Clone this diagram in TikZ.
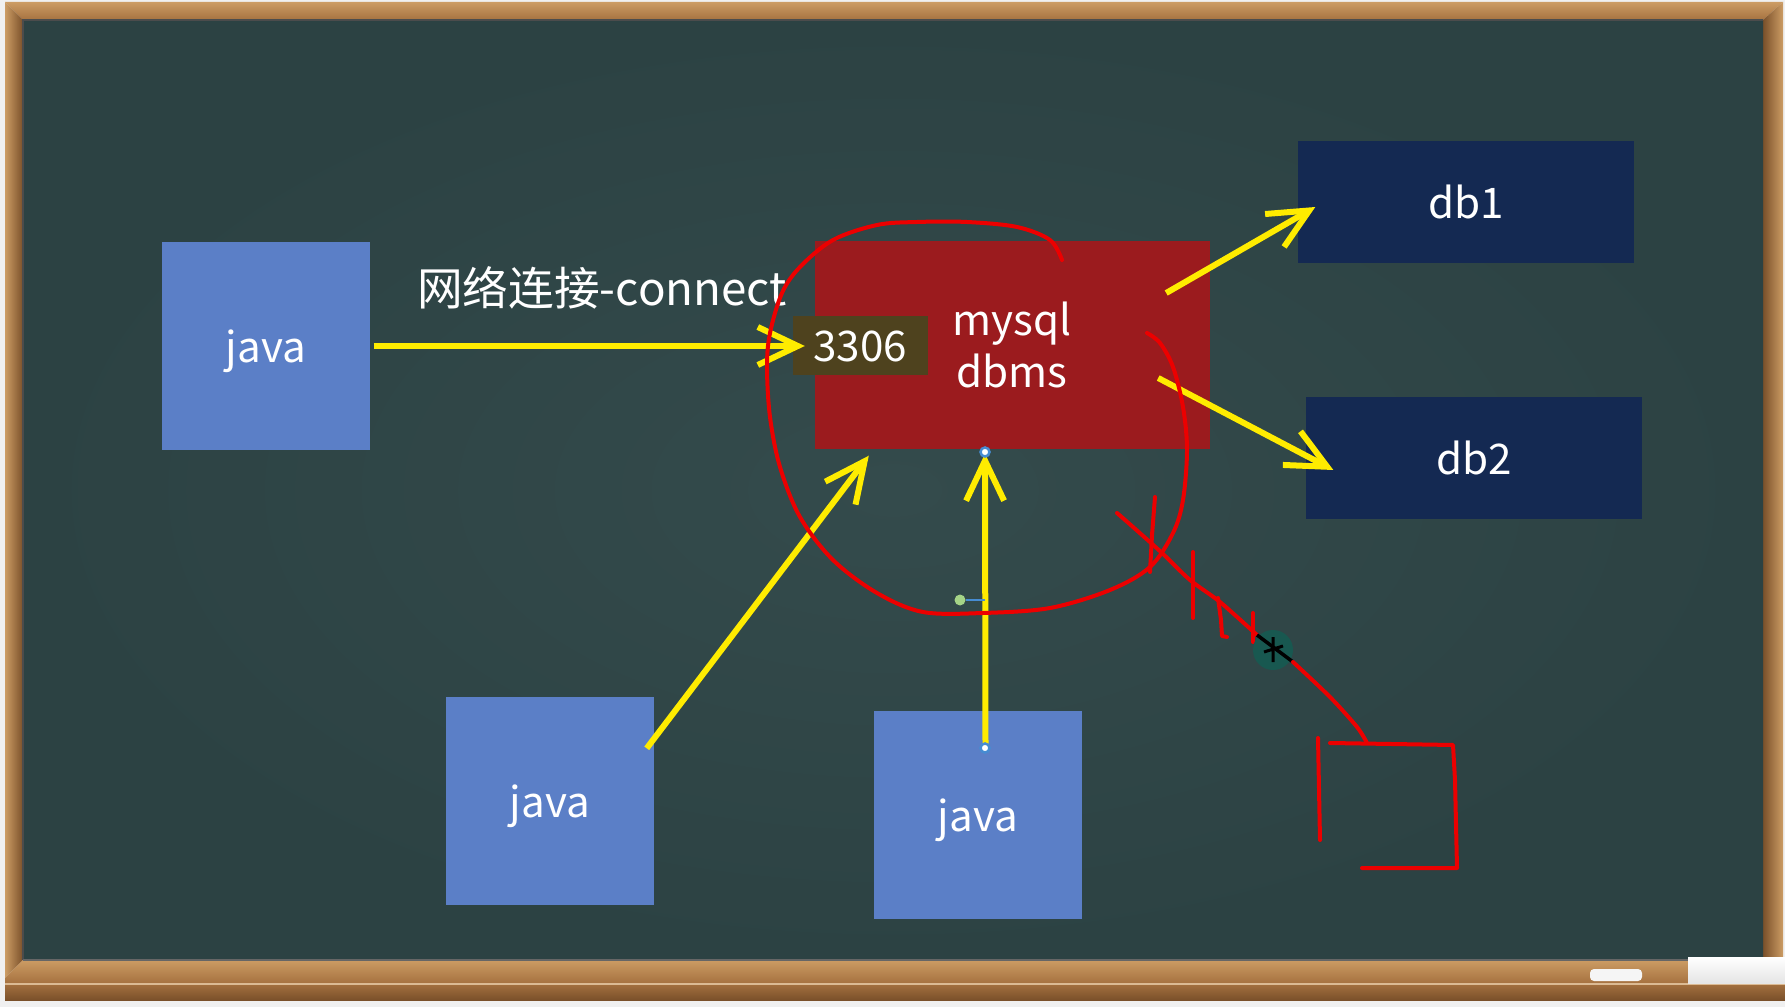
\documentclass[tikz,border=0pt]{standalone}
\usepackage{fontspec}
\setmainfont{Noto Sans CJK SC}
\usetikzlibrary{calc, positioning}
\usetikzlibrary{arrows.meta}

\definecolor{boardgreen}{RGB}{44,66,67}
\definecolor{boardlight}{RGB}{52,75,76}
\definecolor{woodmid}{RGB}{166,114,64}
\definecolor{woodlight}{RGB}{204,156,100}
\definecolor{wooddark}{RGB}{122,80,42}
\definecolor{javablue}{RGB}{91,127,199}
\definecolor{dbnavy}{RGB}{20,41,82}
\definecolor{dbmsred}{RGB}{155,27,30}
\definecolor{portolive}{RGB}{78,66,30}
\definecolor{linkyellow}{RGB}{255,236,0}
\definecolor{penred}{RGB}{236,0,0}
\definecolor{handleblue}{RGB}{70,140,210}
\definecolor{handlegreen}{RGB}{165,212,135}
\definecolor{cursorteal}{RGB}{24,88,80}

\begin{document}
\begin{tikzpicture}[x=0.1mm,y=-0.1mm,
  box/.style={inner sep=0pt, text=white, font=\fontsize{12}{15}\selectfont},
  javabox/.style={box, fill=javablue, text depth=0pt, minimum width=20.8mm, minimum height=20.8mm},
  dbbox/.style={box, fill=dbnavy, minimum width=33.6mm, minimum height=12.2mm},
  link/.style={linkyellow, line width=0.6mm, -{Straight Barb[length=4mm,width=3.8mm]}},
  pen/.style={penred, line width=0.4mm, line cap=round, line join=round},
  selhandle/.style={circle, draw=handleblue, fill=white, line width=0.25mm, inner sep=0pt, minimum size=0.9mm}]
\useasboundingbox (0,0) rectangle (1785,1007);
\fill[gray!12] (0,0) rectangle (1785,1007);
\shade[top color=woodlight, bottom color=woodmid] (5,2) -- (1783,2) -- (1763,20) -- (23,20) -- cycle;
\shade[left color=woodlight, right color=wooddark] (5,2) -- (23,20) -- (23,960) -- (5,978) -- cycle;
\shade[left color=wooddark, right color=woodlight] (1783,2) -- (1783,978) -- (1763,960) -- (1763,20) -- cycle;
\shade[top color=woodlight, bottom color=woodmid] (5,978) -- (23,960) -- (1785,960) -- (1785,983) -- (5,983) -- cycle;
\shade[top color=woodmid, bottom color=wooddark] (5,983) rectangle (1785,1000);
\draw[woodlight!70!white, line width=0.2mm] (5,984) -- (1785,984);
\shade[inner color=boardlight, outer color=boardgreen] (23,20) rectangle (1763,960);
\draw[black!70, line width=0.2mm] (23,960) -- (23,20) -- (1763,20);
\draw[black!60, line width=0.15mm] (23,960) -- (1763,960);
\fill[gray!8, rounded corners=0.4mm] (1590,969) rectangle (1642,981);
\shade[top color=white, bottom color=gray!20] (1688,957) rectangle (1785,983);

\node[javabox] (j1) at (266,346) {java};
\node[javabox] (j2) at (550,801) {java};
\node[javabox] (j3) at (978,815) {java};
\node[box, fill=dbmsred, minimum width=39.5mm, minimum height=20.8mm, align=center] (mysql) at (1012,345) {mysql\\dbms};
\node[box, fill=portolive, minimum width=13.5mm, minimum height=5.9mm] (port) at (860,346) {3306};
\node[dbbox] (db1) at (1466,202) {db1};
\node[dbbox] (db2) at (1474,458) {db2};
\node[text=white, font=\fontsize{13}{16}\selectfont] (netlabel) at (602,288) {网络连接-connect};

\draw[link] ([xshift=0.3mm]j1.east) -- ([xshift=1.3mm]port.west);
\draw[link] ([shift={(-8,52)}]j2.north east) -- ([shift={(55,6)}]mysql.south west);
\draw[link] ([shift={(7.5,37)}]j3.north) -- ([shift={(-27,4)}]mysql.south);
\draw[link] ([shift={(-44,-52)}]mysql.east) -- ([shift={(18,5)}]db1.west);
\draw[link] ([shift={(-52,33)}]mysql.east) -- ([shift={(28,12)}]db2.west);

\node[selhandle] (hmysql) at (985,452) {};
\node[selhandle] (hjava) at (985,748) {};
\node[circle, fill=handlegreen, inner sep=0pt, minimum size=1.1mm] (hrot) at (960,600) {};
\draw[handleblue, line width=0.2mm] (hrot) -- (985,600);

\draw[pen] plot[smooth, tension=0.55] coordinates {(1062,260) (1050,240) (1017,227) (967,222) (917,222) (877,225) (833,240) (800,267) (782,293) (770,333) (767,367) (770,417) (780,467) (800,517) (833,560) (877,593) (923,612) (983,613) (1050,608) (1110,590) (1150,567) (1173,533) (1183,500) (1187,450) (1183,407) (1173,367) (1160,343) (1147,333)};
\draw[pen] plot[smooth] coordinates {(1117,513) (1133,527) (1162,553) (1190,580) (1220,602) (1257,635)};
\draw[pen] (1155,497) -- (1152,535) -- (1150,572);
\draw[pen] (1193,552) -- (1193,618);
\draw[pen] (1218,598) -- (1221,620) -- (1222,636) -- (1227,637);
\draw[pen] (1253,613) -- (1253,642);
\fill[cursorteal] (1273,650) circle (20);
\draw[black, line width=0.35mm] (1257,635) -- (1293,662);
\draw[black, line width=0.3mm] (1273,637) -- (1273,662) (1264,652) -- (1283,646);
\draw[pen] plot[smooth] coordinates {(1293,662) (1330,697) (1357,727) (1367,743)};
\draw[pen] (1318,738) -- (1320,840);
\draw[pen] (1330,743) -- (1453,745) -- (1455,780) -- (1457,868) -- (1362,868);
\end{tikzpicture}
\end{document}
